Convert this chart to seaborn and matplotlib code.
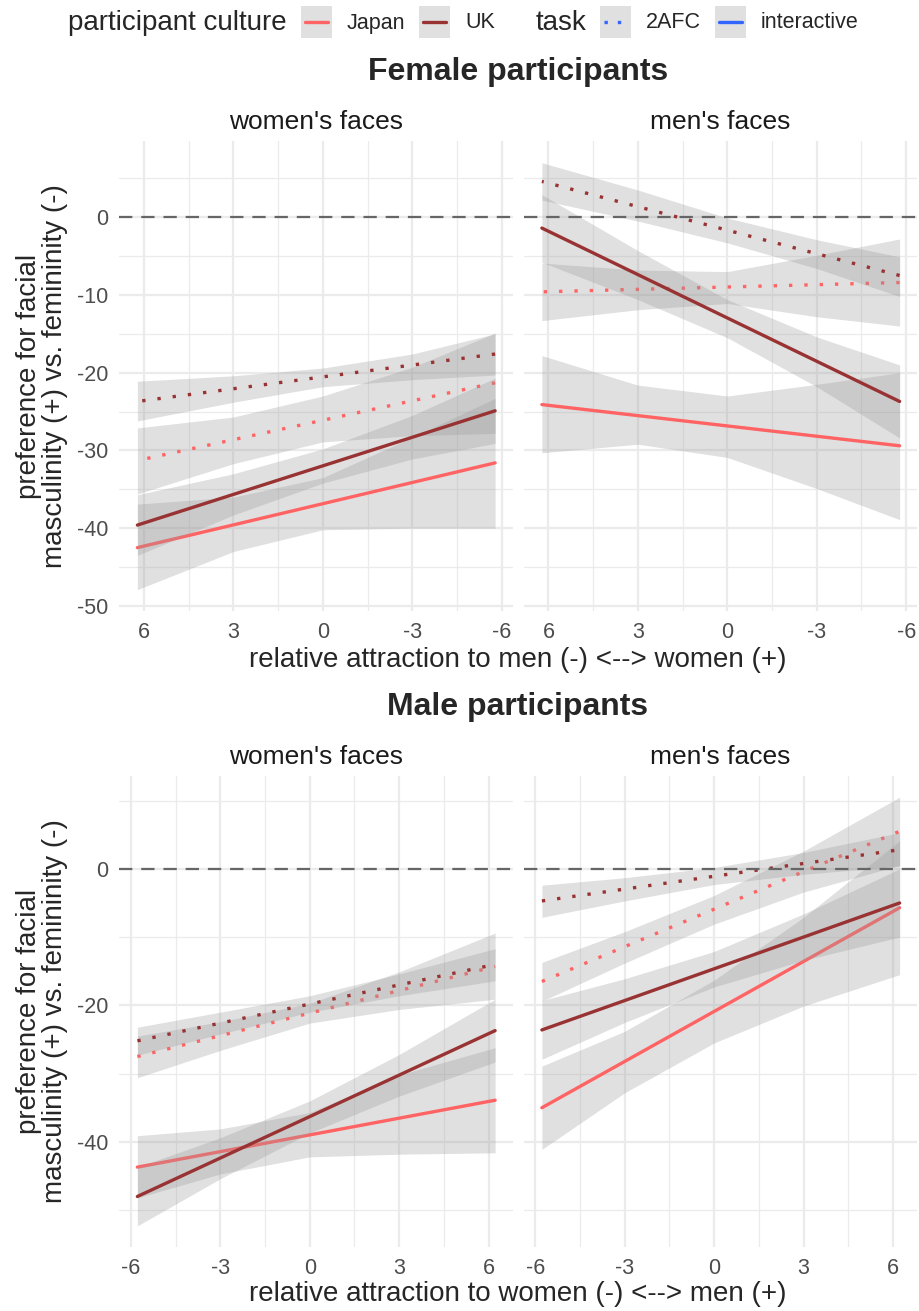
import numpy as np
import pandas as pd
import seaborn as sns
import matplotlib.pyplot as plt
from matplotlib.patches import Rectangle
from matplotlib.lines import Line2D

W, H = 920, 1311

# fitted lines: values at the two ends of the attraction range
x_ends = [-5.78, 6.22]
# ribbon edges, read at these positions
x_band = [-5.78, -3, 0, 3, 6.22]

# group order (ggplot draws them this way): Japan 2AFC, Japan interactive, UK 2AFC, UK interactive
groups = [('Japan', '2AFC'), ('Japan', 'interactive'), ('UK', '2AFC'), ('UK', 'interactive')]
culture_colors = {'Japan': '#FF6363', 'UK': '#993333'}
task_key_color = '#3366FF'

# Female participants, women's faces
fw_fit = [[-21.3, -31.3], [-31.6, -42.5], [-17.6, -23.7], [-24.9, -39.6]]
fw_lo = [[-27.8, -28.1, -28.9, -31.7, -35.6],
         [-40.0, -40.0, -40.2, -43.0, -47.9],
         [-20.3, -20.9, -21.8, -23.8, -26.2],
         [-29.1, -31.1, -34.2, -38.3, -43.5]]
fw_hi = [[-14.9, -19.3, -23.0, -25.7, -27.1],
         [-23.3, -28.3, -33.5, -36.0, -36.9],
         [-15.0, -17.6, -19.4, -20.4, -21.1],
         [-20.7, -25.5, -29.8, -33.0, -35.7]]

# Female participants, men's faces
fm_fit = [[-8.4, -9.6], [-29.4, -24.1], [-7.5, 4.6], [-23.7, -1.4]]
fm_lo = [[-14.0, -12.8, -11.1, -11.9, -13.3],
         [-38.9, -34.9, -30.9, -29.2, -30.3],
         [-10.2, -6.6, -3.3, -0.5, 2.2],
         [-28.4, -21.8, -15.5, -10.6, -5.8]]
fm_hi = [[-2.8, -4.9, -7.0, -6.8, -5.9],
         [-20.0, -21.5, -23.0, -21.6, -17.8],
         [-5.1, -2.9, -0.1, 3.5, 7.0],
         [-19.0, -15.4, -10.6, -4.3, 2.9]]

# Male participants, women's faces
mw_fit = [[-27.5, -14.3], [-43.7, -33.9], [-25.2, -14.0], [-48.0, -23.7]]
mw_lo = [[-30.6, -26.6, -22.6, -20.6, -19.1],
         [-48.2, -44.7, -42.2, -41.8, -41.6],
         [-27.3, -24.2, -21.0, -18.6, -16.4],
         [-52.3, -45.4, -38.7, -33.3, -28.3]]
mw_hi = [[-24.5, -22.4, -19.7, -15.1, -9.4],
         [-39.1, -38.1, -35.7, -30.2, -26.2],
         [-23.2, -21.0, -18.6, -15.4, -11.7],
         [-43.7, -39.4, -34.0, -27.2, -19.1]]

# Male participants, men's faces
mm_fit = [[-16.5, 5.5], [-35.0, -5.7], [-4.7, 2.8], [-23.6, -5.0]]
mm_lo = [[-19.4, -13.8, -8.1, -3.4, 0.5],
         [-41.1, -32.8, -25.5, -20.1, -15.5],
         [-7.1, -4.7, -2.3, -0.8, 0.4],
         [-27.9, -22.5, -17.3, -13.4, -10.0]]
mm_hi = [[-13.7, -9.2, -3.9, 2.6, 10.5],
         [-28.9, -23.8, -16.3, -7.1, 4.1],
         [-2.4, -1.3, 0.2, 2.4, 5.3],
         [-19.3, -16.1, -12.1, -6.6, 0.0]]

sns.set_theme(style='white')
plt.rcParams['font.family'] = ['Liberation Sans', 'DejaVu Sans']
plt.rcParams['axes.unicode_minus'] = False

fig = plt.figure(figsize=(W / 100, H / 100), dpi=100)


def box(l, t, r, b):
    return [l / W, 1 - b / H, (r - l) / W, (b - t) / H]


def draw_panel(rect, fit, lo, hi, reverse, ylim, ymajor, yminor, show_y):
    ax = fig.add_axes(rect)
    for i, (cult, task) in enumerate(groups):
        ax.fill_between(x_band, lo[i], hi[i], color='#999999', alpha=0.3, lw=0, zorder=2)
        d = pd.DataFrame({'x': x_ends, 'y': fit[i]})
        ls = (0, (1, 3.6)) if task == '2AFC' else '-'
        sns.lineplot(data=d, x='x', y='y', ax=ax, color=culture_colors[cult],
                     lw=2.4, linestyle=ls, zorder=2, errorbar=None)
    ax.axhline(0, color='#666666', lw=1.6, linestyle=(0, (6, 4)), zorder=3)
    if reverse:
        ax.set_xlim(6.82, -6.38)
    else:
        ax.set_xlim(-6.38, 6.82)
    ax.set_ylim(*ylim)
    ax.set_xticks([-6, -3, 0, 3, 6])
    ax.set_xticklabels(['-6', '-3', '0', '3', '6'])
    ax.set_xticks([-4.5, -1.5, 1.5, 4.5], minor=True)
    ax.set_yticks(ymajor)
    ax.set_yticklabels([str(v) for v in ymajor] if show_y else [])
    ax.set_yticks(yminor, minor=True)
    ax.grid(which='major', color='#EBEBEB', lw=1.6, zorder=0)
    ax.grid(which='minor', color='#EBEBEB', lw=0.9, zorder=0)
    ax.set_axisbelow(True)
    for s in ax.spines.values():
        s.set_visible(False)
    ax.tick_params(which='both', length=0, labelsize=15.5, labelcolor='#4D4D4D', pad=8)
    ax.set_xlabel('')
    ax.set_ylabel('')
    return ax


top_ylim = (-50.65, 9.8)
bot_ylim = (-55.4, 13.6)

draw_panel(box(119.5, 141, 513, 611), fw_fit, fw_lo, fw_hi, True, top_ylim,
           [-50, -40, -30, -20, -10, 0], [-45, -35, -25, -15, -5, 5], True)
draw_panel(box(524, 141, 917.5, 611), fm_fit, fm_lo, fm_hi, True, top_ylim,
           [-50, -40, -30, -20, -10, 0], [-45, -35, -25, -15, -5, 5], False)
draw_panel(box(119.5, 776, 513, 1247), mw_fit, mw_lo, mw_hi, False, bot_ylim,
           [-40, -20, 0], [-50, -30, -10, 10], True)
draw_panel(box(524, 776, 917.5, 1247), mm_fit, mm_lo, mm_hi, False, bot_ylim,
           [-40, -20, 0], [-50, -30, -10, 10], False)


def ftext(x, y, s, **kw):
    fig.text(x / W, 1 - y / H, s, **kw)


# titles, strips, axis titles
ftext(518, 72, 'Female participants', ha='center', va='center', fontsize=23, fontweight='bold')
ftext(518, 707, 'Male participants', ha='center', va='center', fontsize=23, fontweight='bold')
for y in (122, 757):
    ftext(316, y, "women's faces", ha='center', va='center', fontsize=19, color='#1A1A1A')
    ftext(720, y, "men's faces", ha='center', va='center', fontsize=19, color='#1A1A1A')
ylab = 'preference for facial\nmasculinity (+) vs. femininity (-)'
ftext(42, 376, ylab, ha='center', va='center', rotation=90, fontsize=20, linespacing=1.0)
ftext(42, 1011, ylab, ha='center', va='center', rotation=90, fontsize=20, linespacing=1.0)
ftext(518, 660, 'relative attraction to men (-) <--> women (+)', ha='center', va='center', fontsize=20)
ftext(518, 1294, 'relative attraction to women (-) <--> men (+)', ha='center', va='center', fontsize=20)

# legend along the top
ftext(68, 23, 'participant culture', ha='left', va='center', fontsize=20)
ftext(536, 23, 'task', ha='left', va='center', fontsize=20)
keys = [(301, culture_colors['Japan'], '-', 'Japan'),
        (419, culture_colors['UK'], '-', 'UK'),
        (600, task_key_color, (0, (1, 3)), '2AFC'),
        (715, task_key_color, '-', 'interactive')]
for kx, col, ls, lab in keys:
    fig.add_artist(Rectangle((kx / W, 1 - 38 / H), 31 / W, 32 / H, transform=fig.transFigure,
                             facecolor='#E0E0E0', edgecolor='none'))
    fig.add_artist(Line2D([(kx + 4) / W, (kx + 27) / W], [1 - 22 / H, 1 - 22 / H],
                          transform=fig.transFigure, color=col, lw=2.4, linestyle=ls))
    ftext(kx + 46, 23, lab, ha='left', va='center', fontsize=15.5)

fig.savefig('out.png', dpi=100)
